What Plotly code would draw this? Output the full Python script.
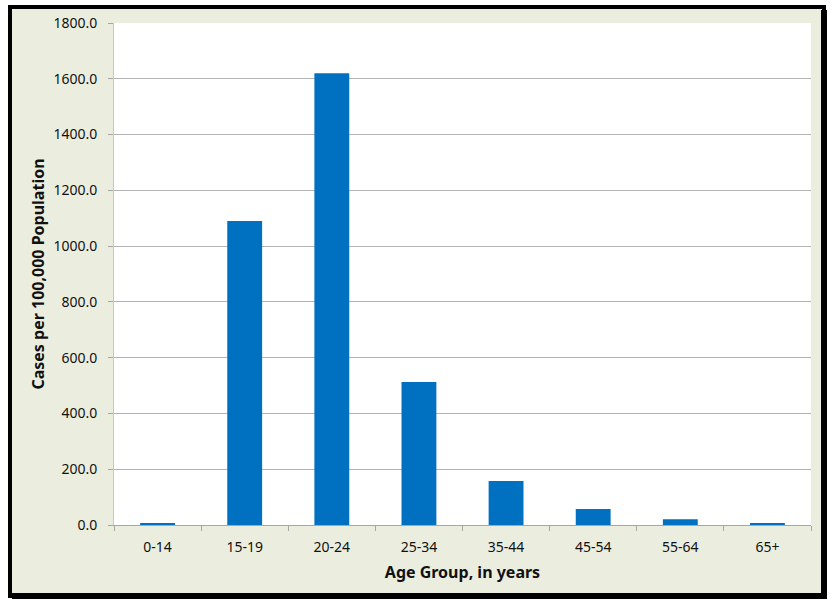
import plotly.graph_objects as go

categories = ["0-14", "15-19", "20-24", "25-34", "35-44", "45-54", "55-64", "65+"]
rates = [5.0, 1090.0, 1620.0, 513.0, 158.0, 57.0, 21.0, 4.0]
y_ticks = [0, 200, 400, 600, 800, 1000, 1200, 1400, 1600, 1800]

W, H = 830, 602
L, R, T, B = 114, 811, 23, 525
PW, PH = R - L, B - T

def px(x):
    return (x - L) / PW

def py(y):
    return (B - y) / PH

beige = "#EBEEDF"
font_family = "Noto Sans, Open Sans, sans-serif"

fig = go.Figure(go.Bar(x=categories, y=rates, marker_color="#0070C0", marker_line_width=0))

shapes = [
    dict(type="rect", xref="paper", yref="paper", x0=px(10), x1=px(824), y0=py(7), y1=py(596),
         fillcolor=beige, line=dict(color="black", width=4), layer="below"),
    dict(type="rect", xref="paper", yref="paper", x0=px(821), x1=px(827), y0=py(10), y1=py(599),
         fillcolor="black", line=dict(width=0), layer="below"),
    dict(type="rect", xref="paper", yref="paper", x0=px(12), x1=px(827), y0=py(593), y1=py(599),
         fillcolor="black", line=dict(width=0), layer="below"),
    dict(type="rect", xref="paper", yref="paper", x0=0, x1=1, y0=0, y1=1,
         fillcolor="white", line=dict(width=0), layer="below"),
]

fig.update_layout(
    width=W, height=H,
    margin=dict(l=L, r=W - R, t=T, b=H - B),
    paper_bgcolor="white", plot_bgcolor="white",
    bargap=0.6, showlegend=False, shapes=shapes,
    font=dict(family=font_family, color="#111111", size=14),
    xaxis=dict(
        title=dict(text="<b>Age Group, in years</b>", font=dict(size=16), standoff=12),
        showline=True, linecolor="#A6A6A6", linewidth=1,
        ticks="outside", tickson="boundaries", ticklen=5, tickcolor="#A6A6A6",
        ticklabelstandoff=9,
        showgrid=False,
    ),
    yaxis=dict(
        title=dict(text="<b>Cases per 100,000 Population</b>", font=dict(size=16), standoff=4),
        range=[0, 1800], tickvals=y_ticks, tickformat=".1f",
        showline=True, linecolor="#C8C8C8", linewidth=1,
        ticks="outside", ticklen=5, tickcolor="#A6A6A6",
        ticklabelstandoff=8,
        showgrid=True, gridcolor="#B4B4B4", gridwidth=1, zeroline=False,
    ),
)

fig.write_html("out.html", config={"displayModeBar": False},
               post_script="document.body.style.margin='0px';")
